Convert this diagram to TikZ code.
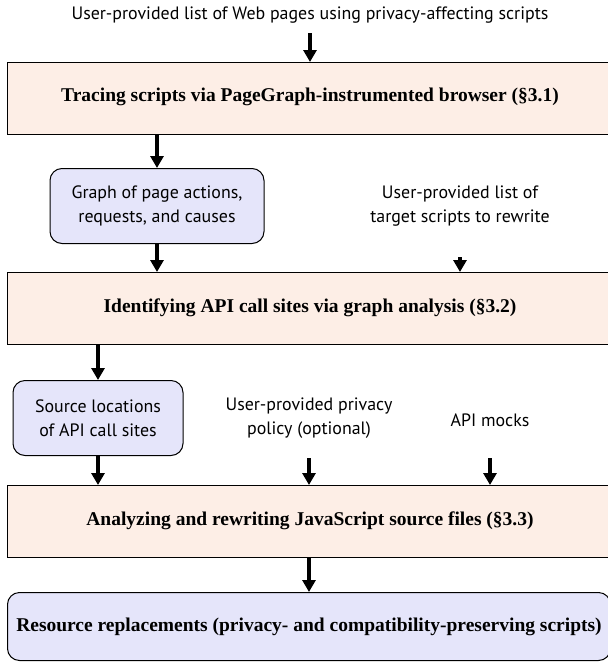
\documentclass[tikz,border=0pt]{standalone}
\usepackage{fontspec}
\setmainfont{Liberation Serif}
\setsansfont{PT Sans}
\usetikzlibrary{arrows.meta}
\definecolor{peach}{RGB}{253,238,230}
\definecolor{lav}{RGB}{229,229,250}
\tikzset{
  boldtext/.style={inner sep=0pt, font=\fontsize{19.5}{22}\selectfont\bfseries\rmfamily},
  stage/.style={draw=black, line width=1pt, fill=peach, minimum width=606pt, minimum height=72pt, inner sep=0pt},
  result/.style={draw=black, line width=1pt, fill=lav, rounded corners=12pt, inner sep=0pt, font=\fontsize{17.9}{23.5}\selectfont\sffamily, align=center},
  finalbox/.style={draw=black, line width=1pt, fill=lav, rounded corners=12pt, minimum width=603pt, minimum height=68pt, inner sep=0pt},
  inp/.style={inner sep=0pt, font=\fontsize{17.9}{23.5}\selectfont\sffamily, align=center},
  flow/.style={-{Triangle[length=12pt,width=13pt]}, line width=3.2pt}
}
\begin{document}
\begin{tikzpicture}[x=1pt,y=-1pt]
\useasboundingbox (0,0) rectangle (608,665);
\node[inp] (in1) at (310,15) {User-provided list of Web pages using privacy-affecting scripts};
\node[stage, anchor=north west] (s1) at (7,62) {};
\node[boldtext] (t1) at (310,97) {Tracing scripts via PageGraph-instrumented browser (§3.1)};
\node[result, minimum width=214pt, minimum height=75pt] (g) at (157,206) {Graph of page actions,\\requests, and causes};
\node[inp] (in2) at (460,206) {User-provided list of\\target scripts to rewrite};
\node[stage, anchor=north west] (s2) at (7,272) {};
\node[boldtext] (t2) at (310,308) {Identifying API call sites via graph analysis (§3.2)};
\node[result, minimum width=170pt, minimum height=75pt] (src) at (98,418) {Source locations\\of API call sites};
\node[inp] (in3) at (309,418) {User-provided privacy\\policy (optional)};
\node[inp] (in4) at (490,420) {API mocks};
\node[stage, anchor=north west] (s3) at (7,485) {};
\node[boldtext] (t3) at (310,521) {Analyzing and rewriting JavaScript source files (§3.3)};
\node[finalbox, anchor=north west] (res) at (7,592) {};
\node[boldtext] (t4) at (309,627) {Resource replacements (privacy- and compatibility-preserving scripts)};
\coordinate (a1) at (310,33);
\draw[flow] (a1) -- (a1 |- s1.north);
\draw[flow] (g.north |- s1.south) -- (g.north);
\draw[flow] (g.south) -- (g.south |- s2.north);
\coordinate (a2) at (460,257);
\draw[flow] (a2) -- (a2 |- s2.north);
\draw[flow] (src.north |- s2.south) -- (src.north);
\draw[flow] (src.south) -- (src.south |- s3.north);
\coordinate (a3) at (309,458);
\draw[flow] (a3) -- (a3 |- s3.north);
\coordinate (a4) at (490,458);
\draw[flow] (a4) -- (a4 |- s3.north);
\draw[flow] (a3 |- s3.south) -- (a3 |- res.north);
\end{tikzpicture}
\end{document}
